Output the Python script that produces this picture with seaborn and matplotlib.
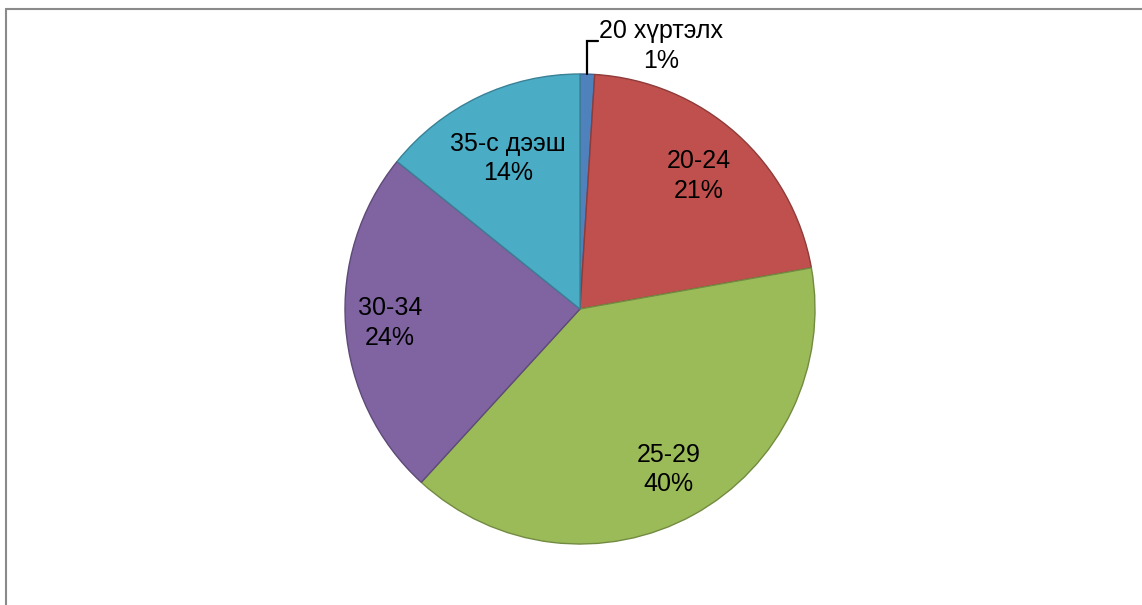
import numpy as np
import matplotlib
matplotlib.use("Agg")
import matplotlib.pyplot as plt
from matplotlib.lines import Line2D
import seaborn as sns

categories = ["20 хүртэлх", "20-24", "25-29", "30-34", "35-с дээш"]
values = [1.0, 21.2, 39.6, 24.0, 14.2]
face_colors = ["#4F81BD", "#C0504D", "#9BBB59", "#8064A2", "#4BACC6"]
edge_colors = ["#3A6292", "#8E3B39", "#728B41", "#5E4A78", "#3A8196"]

sns.set_theme(style="white")
plt.rcParams["font.family"] = ["Liberation Sans", "DejaVu Sans"]

W, H = 1142, 605
fig = plt.figure(figsize=(W / 100, H / 100), dpi=100)
fig.patch.set_facecolor("white")

# frame lines (top and left, cut by image edge)
fig.add_artist(Line2D([5.5 / W, 1.0], [1 - 8.5 / H, 1 - 8.5 / H], color="#8a8a8a", lw=1.5))
fig.add_artist(Line2D([5.5 / W, 5.5 / W], [0.0, 1 - 8.5 / H], color="#8a8a8a", lw=1.5))

cx, cy, r = 580, 309, 235
ax = fig.add_axes([(cx - r) / W, (H - cy - r) / H, 2 * r / W, 2 * r / H])
ax.set_axis_off()

pal = sns.color_palette(face_colors)
wedges, _ = ax.pie(values, colors=pal, startangle=90, counterclock=False,
                   radius=1.0,
                   wedgeprops=dict(linewidth=1.0))
for w, ec in zip(wedges, edge_colors):
    w.set_edgecolor(ec)
ax.set_xlim(-1, 1)
ax.set_ylim(-1, 1)

total = sum(values)
fs = 18
ls = 1.3
dist = [None, 0.76, 0.78, 0.81, 0.71]
for i, (w, cat, v) in enumerate(zip(wedges, categories, values)):
    pct = f"{round(100 * v / total):.0f}%"
    ang = np.deg2rad((w.theta1 + w.theta2) / 2)
    if i == 0:
        x0 = np.cos(ang) * 1.0
        y0 = np.sin(ang) * 1.0
        ax.plot([x0, x0, x0 + 0.045], [y0, 1.14, 1.14], color="black", lw=1.6,
                clip_on=False, solid_joinstyle="miter")
        ax.text(0.345, 1.12, f"{cat}\n{pct}", ha="center", va="center",
                fontsize=fs, color="black", linespacing=ls)
    else:
        d = dist[i]
        ax.text(np.cos(ang) * d, np.sin(ang) * d, f"{cat}\n{pct}",
                ha="center", va="center", fontsize=fs, color="black",
                linespacing=ls)

fig.savefig("out.png", dpi=100, facecolor="white")
